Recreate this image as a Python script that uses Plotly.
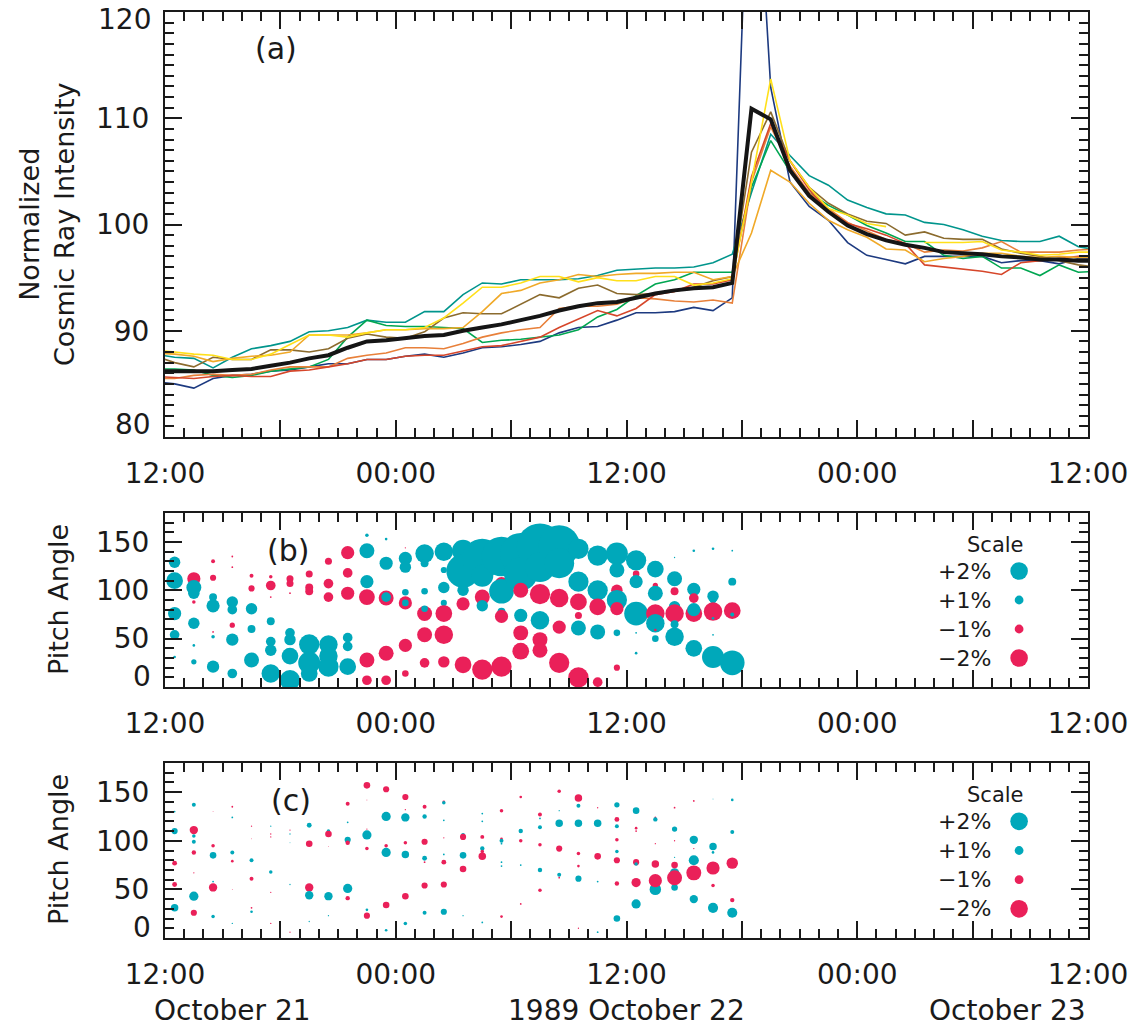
import plotly.graph_objects as go
import pandas as pd

# ---------------- data ----------------
# hourly averages plotted at half hours, starting 1989-10-21 11:30
TIMES = pd.date_range("1989-10-21 11:30", periods=50, freq="h")

NAVY = [85.2, 85.0, 84.6, 85.5, 85.8, 85.9, 86.2, 86.3, 86.6, 86.9, 86.9, 87.3, 87.3, 87.6, 87.8, 87.5,
        87.9, 88.4, 88.5, 88.7, 89.0, 89.8, 90.3, 90.4, 91.0, 91.7, 91.7, 91.8, 92.2, 91.9, 93.1, 143.0,
        112.9, 104.0, 101.7, 100.4, 98.3, 97.1, 96.7, 96.3, 97.0, 97.0, 97.0, 97.0, 96.4, 96.6, 96.6, 96.3,
        96.8, 96.8]
TEAL = [87.8, 87.5, 87.4, 86.5, 87.5, 88.3, 88.6, 89.0, 89.9, 90.0, 90.3, 91.0, 90.8, 90.8, 91.8, 91.8,
        93.4, 94.5, 94.4, 94.8, 94.8, 94.8, 94.9, 95.2, 95.7, 95.8, 95.9, 95.9, 96.0, 96.4, 97.2, 103.0,
        108.5, 106.5, 104.6, 103.7, 102.3, 101.6, 101.0, 100.9, 100.2, 100.0, 99.5, 98.9, 98.5, 98.4, 98.4,
        98.9, 97.9, 97.6]
GREEN = [86.4, 86.4, 86.3, 85.8, 85.6, 85.8, 86.2, 86.4, 86.6, 87.3, 89.4, 91.0, 90.5, 90.4, 90.4, 90.3,
         90.2, 88.9, 89.1, 89.2, 89.4, 89.6, 90.1, 91.3, 92.0, 93.3, 94.4, 94.8, 95.5, 95.5, 95.5, 103.5,
         107.9, 105.0, 103.0, 101.8, 100.9, 99.9, 99.2, 98.4, 98.4, 97.1, 96.8, 97.0, 95.9, 95.9, 95.2, 96.2,
         95.5, 95.6]
BROWN = [87.6, 87.0, 86.6, 87.5, 87.3, 87.3, 88.2, 88.2, 88.0, 88.3, 89.3, 89.7, 89.4, 89.3, 89.9, 91.2,
         91.7, 91.6, 91.6, 92.5, 93.4, 93.1, 94.0, 94.3, 93.5, 93.4, 93.5, 93.7, 94.1, 94.7, 95.1, 106.8,
         110.6, 106.0, 103.5, 102.0, 101.0, 100.3, 100.1, 99.0, 99.3, 98.7, 98.6, 98.6, 97.7, 97.3, 97.0,
         96.6, 96.2, 96.0]
YELLOW = [88.2, 88.0, 87.8, 87.7, 87.3, 87.3, 87.8, 88.7, 89.6, 89.6, 89.4, 89.8, 90.1, 90.1, 90.3, 91.2,
          92.6, 94.1, 94.1, 94.5, 95.1, 95.1, 94.6, 95.0, 94.7, 94.7, 95.1, 95.1, 94.3, 94.5, 94.9, 104.0,
          113.7, 106.0, 103.5, 101.5, 100.9, 100.1, 99.8, None, 98.3, 98.3, 98.3, 98.4, 97.6, 97.4, 97.1,
          97.2, 97.4, 97.4]
GOLD = [87.9, 87.8, 87.6, 87.1, 87.4, 87.6, 87.7, 88.0, 89.6, 89.6, 89.6, 89.8, 90.1, 90.1, 90.2, 90.2,
        90.3, 91.8, 93.5, 93.8, 94.5, 94.8, 95.3, 95.1, 95.3, 95.4, 95.4, 95.5, 95.5, 94.8, 95.1, 99.2,
        105.1, 104.0, 102.0, 100.4, 99.5, 98.8, 97.7, 97.6, 96.5, 96.8, 97.0, 97.3, 97.3, 97.0, 96.9, 97.0,
        96.9, 96.9]
ORANGE = [85.5, 85.5, 85.8, 85.9, 85.8, 85.9, 86.3, 86.6, 86.6, 86.6, 87.4, 87.7, 87.9, 88.4, 88.4, 88.3,
          88.8, 89.4, 89.8, 90.1, 90.3, 92.1, 92.3, 92.3, 92.5, 93.1, 93.0, 92.8, 92.7, 92.9, 92.6, 104.0,
          109.2, 105.5, 103.0, 101.5, 100.2, 99.4, 98.6, 98.2, 97.4, 97.6, 97.5, 97.8, 98.4, 97.4, 97.4,
          97.4, 97.6, 97.7]
RED = [85.7, 85.6, 85.5, 85.7, 85.8, 85.7, 85.7, 86.2, 86.3, 86.6, 86.9, 87.3, 87.3, 87.6, 87.7, 87.7,
       88.1, 88.5, 88.6, 89.0, 89.4, 90.3, 91.1, 91.9, 91.4, 92.1, 93.4, 93.7, 94.4, 94.4, 94.8, 104.5,
       109.5, 106.0, 103.3, 101.3, 100.1, 99.6, 99.0, 98.2, 96.2, 96.0, 95.8, 95.6, 95.3, 96.4, 96.6, 96.8,
       97.0, 97.0]
MEAN = [86.2, 86.2, 86.2, 86.2, 86.3, 86.4, 86.7, 87.0, 87.4, 87.7, 88.4, 89.0, 89.1, 89.3, 89.5, 89.6,
        90.0, 90.3, 90.6, 91.0, 91.4, 91.9, 92.3, 92.6, 92.7, 93.1, 93.5, 93.8, 94.0, 94.1, 94.5, 110.9,
        109.9, 105.1, 102.7, 101.2, 99.9, 99.1, 98.5, 98.1, 97.8, 97.4, 97.3, 97.2, 97.0, 96.9, 96.7, 96.7,
        96.6, 96.6]

LINE_SERIES = [("navy", NAVY, "#1d3a80"), ("teal", TEAL, "#00958c"), ("green", GREEN, "#00a651"),
               ("brown", BROWN, "#8b6b2e"), ("orange", ORANGE, "#e8803a"), ("red", RED, "#d6462a"),
               ("gold", GOLD, "#f0a928"), ("yellow", YELLOW, "#ffe01a")]

# panel (b): per hourly column (12:30 Oct 21 ... 17:30 Oct 22): pitch angles (deg) and anisotropy (%)
B_PITCH = [[129, 110, 76, 54, 31], [112, 103, 97, 88, 66, 43, 26], [130, 113, 93, 84, 57, 52, 21],
           [135, 124, 88, 80, 64, 49, 14], [115, 102, 81, 60, 28], [114, 105, 93, 68, 47, 38, 14],
           [112, 107, 97, 56, 49, 32, 7], [117, 103, 99, 44, 25, 14], [130, 107, 93, 44, 32, 21],
           [139, 118, 97, 51, 42, 21], [157, 141, 109, 93, 28, 7], [153, 128, 92, 93, 35, 7],
           [144, 133, 124, 98, 87, 87, 43, 14], [138, 128, 99, 76, 81, 54, 25], [140, 121, 103, 87, 76, 54, 26],
           [141, 120, 100, 86, 23], [133, 115, 93, 84, 18], [135, 107, 99, 78, 73, 21],
           [138, 117, 100, 74, 56, 37], [145, 124, 96, 69, 49, 38], [146, 128, 92, 62, 25],
           [143, 109, 88, 74, 61, 10], [136, 100, 83, 57, 5], [138, 121, 100, 90, 81, 56, 20],
           [131, 117, 109, 78, 76, 56, 35], [122, 105, 97, 76, 66, 59, 50], [134, 112, 99, 83, 76, 65, 52],
           [141, 101, 92, 76, 80, 40], [143, 94, 90, 78, 71, 54, 31], [141, 109, 79, 75, 25]]
B_PCT = [[1.3, 1.9, 1.5, 1.1, 0.3], [-1.5, 1.7, 1.3, -0.4, 1.3, 0.3, 0.6], [-0.45, -0.7, 0.9, 1.5, -0.2, 0.4, 1.4],
         [-0.2, -0.2, 1.3, 1.1, -0.6, 1.4, 1.1], [-0.45, -0.7, 1.3, 0.9, 1.7], [-0.4, -1.1, -0.2, 0.9, 1.1, 1.3, 2.1],
         [-0.8, -0.8, -0.2, 1.1, 1.3, 1.9, 2.3], [-0.8, -0.9, -0.9, 2.3, 2.5, 1.9], [-0.8, -1.1, -1.1, 2.1, 2.1, 2.3],
         [-1.5, -1.1, -1.5, 1.1, 1.1, 1.9], [0.4, 1.7, 1.5, -1.8, -1.7, -1.1], [0.3, 1.5, -1.7, 1.1, -1.7, -1.1],
         [-0.15, 1.5, 1.3, 0.75, -1.5, 0.75, -1.5, -0.75], [2.1, 0.9, 0.75, -1.7, 0.75, -1.7, -1.1],
         [2.1, 0.7, 1.3, 0.7, -1.9, -2.1, -1.3], [2.5, 3.8, 1.3, -1.5, -1.9], [4.5, 2.5, -1.7, 1.3, -2.3],
         [4.5, -1.5, 2.8, 0.9, -1.5, -2.3], [4.7, 3.8, -1.7, 1.5, -1.7, -1.9], [5.3, 3.4, -2.3, 2.1, -1.7, -1.7],
         [4.7, 3.4, -2.1, -1.5, -2.3], [2.3, 2.3, -1.9, -0.8, 1.7, -2.3], [2.3, 2.3, -1.9, 1.7, -1.1],
         [2.5, 1.7, -1.3, 2.3, -1.5, 0.75, -0.7], [2.3, -0.75, 1.5, -1.1, 2.7, 0.2, 0.3],
         [1.9, -0.6, 1.7, -2.1, 2.1, -0.3, 0.75], [0.15, 1.7, -0.9, 1.3, -2.1, 0.9, 2.1],
         [0.3, 1.5, -1.1, -1.9, 1.5, 1.9], [0.3, 1.3, 0.75, -2.1, 0.3, 0.2, 2.5], [0.2, 0.9, -1.9, 0.45, 2.8]]

# panel (c)
C_PITCH = [[130, 110, 77, 55, 31], [137, 111, 105, 99, 88, 67, 43, 26], [130, 95, 85, 58, 52, 22],
           [135, 124, 88, 79, 50, 15], [115, 102, 80, 61, 31, 27], [115, 107, 104, 68, 47, 15],
           [111, 107, 98, 55, 6], [116, 97, 52, 44, 17], [110, 107, 94, 43, 23],
           [138, 119, 101, 98, 51, 41], [157, 142, 112, 106, 92, 29, 23], [153, 125, 95, 88, 34, 8],
           [145, 132, 124, 98, 86, 43, 15], [135, 125, 99, 82, 78, 54, 26], [140, 139, 121, 103, 86, 78, 55, 27],
           [106, 104, 85, 71, 23], [128, 120, 104, 92, 89, 84, 16], [131, 102, 100, 97, 78, 74, 22],
           [145, 110, 100, 75, 35], [127, 123, 114, 96, 70, 49], [151, 131, 118, 92, 65, 62],
           [144, 136, 118, 87, 74, 61, 10], [134, 118, 84, 58, 6], [137, 122, 115, 101, 89, 80, 56, 20],
           [131, 113, 110, 78, 76, 57, 35], [124, 122, 97, 50, 76, 59], [134, 112, 100, 83, 67, 52, 75, 62],
           [141, 101, 92, 80, 40, 67], [143, 94, 88, 31, 72, 54], [142, 109, 76, 26, 77, 39]]
C_PCT = [[0.2, 0.7, -0.55, -0.55, 0.85], [0.45, -0.95, 0.4, 0.45, -0.5, -0.15, 1.05, -0.7],
         [-0.1, -0.4, 0.75, 0.2, -0.95, 0.4], [-0.2, 0.2, 0.45, -0.3, -0.1, 0.15], [-0.15, -0.1, 0.45, -0.45, -0.2, 0.3],
         [0.15, -0.15, -0.15, 0.4, -0.15, -0.15], [-0.15, 0.15, 0.1, 0.15, -0.15], [0.55, -0.75, -0.95, 0.95, 0.15],
         [0.4, -0.75, -0.1, 0.95, 0.15], [-0.45, 0.2, 0.7, -0.5, 1.05, -0.5], [-0.75, -0.1, -0.15, 1.05, -0.4, 0.3, -0.7],
         [-0.7, 1.05, -0.4, 1.05, -0.75, 0.3], [-0.7, -0.15, 0.95, -0.4, 0.85, -0.75, 0.4],
         [-0.45, 0.5, -0.7, 0.55, -0.2, -0.7, 0.45], [-0.3, 0.4, 0.2, -0.15, 0.2, -0.55, -0.7, 0.7],
         [0.45, -0.7, 0.75, -0.75, 0.15], [0.2, 0.2, -0.45, 0.5, -0.4, -0.85, 0.2], [-0.4, -0.3, 0.45, 0.2, 0.2, 0.2, -0.3],
         [-0.3, 0.5, -0.4, 0.2, -0.2], [-0.45, 0.2, 0.45, -0.4, 0.5, -0.4], [-0.4, 0.15, 0.85, -0.7, 0.45, -0.2],
         [-0.85, 0.45, 0.85, -0.4, -0.3, 0.7, -0.15], [-0.15, 0.85, -0.75, 0.2, 0.2],
         [0.6, -0.55, 0.45, -0.4, 0.4, -0.7, -0.5, 0.75], [0.75, -0.3, -0.2, -0.7, 0.4, -1.05, 1.05],
         [-0.2, 0.5, -0.15, 1.3, -0.85, -1.5], [-0.2, 0.6, -0.15, 0.15, 1.05, 0.75, -0.75, -1.7],
         [-0.2, 0.95, -0.15, 1.15, 0.95, -1.7], [0.1, 0.85, 0.3, 1.15, -1.5, -0.4], [0.3, 0.45, 0.3, 1.15, -1.3, -0.5]]

SCALE_VALUES = [2, 1, -1, -2]
SCALE_LABELS = ["+2%", "+1%", "\u22121%", "\u22122%"]
SCALE_PITCH = [120, 90, 60, 30]

# ---------------- styling ----------------
CYAN = "#00a8ba"
CRIMSON = "#ea2059"
PX_PER_PCT = 8.8
FONT = "DejaVu Sans"
INK = "#1a1a1a"

fig = go.Figure()

for name, vals, col in LINE_SERIES:
    fig.add_trace(go.Scatter(x=TIMES, y=vals, mode="lines", name=name,
                             line=dict(color=col, width=1.6), connectgaps=False,
                             xaxis="x", yaxis="y", showlegend=False))
fig.add_trace(go.Scatter(x=TIMES, y=MEAN, mode="lines", name="mean",
                         line=dict(color="#151515", width=4), xaxis="x", yaxis="y", showlegend=False))


def bubbles(pitch_cols, pct_cols):
    xs, ys, vs = [], [], []
    for k, (ps, vv) in enumerate(zip(pitch_cols, pct_cols)):
        for p, v in zip(ps, vv):
            xs.append(TIMES[k + 1])
            ys.append(p)
            vs.append(v)
    return xs, ys, vs


for (pc, vc, xa, ya) in [(B_PITCH, B_PCT, "x2", "y2"), (C_PITCH, C_PCT, "x3", "y3")]:
    xs, ys, vs = bubbles(pc, vc)
    fig.add_trace(go.Scatter(
        x=xs, y=ys, mode="markers", xaxis=xa, yaxis=ya, showlegend=False,
        marker=dict(size=[PX_PER_PCT * abs(v) for v in vs], sizemode="diameter",
                    color=[CYAN if v > 0 else CRIMSON for v in vs], line=dict(width=0), opacity=1)))
    # scale key
    key_t = pd.Timestamp("1989-10-23 08:25")
    fig.add_trace(go.Scatter(
        x=[key_t] * 4, y=SCALE_PITCH, mode="markers", xaxis=xa, yaxis=ya, showlegend=False,
        marker=dict(size=[PX_PER_PCT * abs(v) for v in SCALE_VALUES], sizemode="diameter",
                    color=[CYAN if v > 0 else CRIMSON for v in SCALE_VALUES], line=dict(width=0),
                    opacity=1)))
    for lab, p in zip(SCALE_LABELS, SCALE_PITCH):
        fig.add_annotation(x=pd.Timestamp("1989-10-23 07:05"), y=p, xref=xa, yref=ya, text=lab,
                           showarrow=False, xanchor="right", yanchor="middle",
                           font=dict(family=FONT, size=22, color=INK))
    fig.add_annotation(x=pd.Timestamp("1989-10-23 07:10"), y=147, xref=xa, yref=ya, text="Scale",
                       showarrow=False, xanchor="center", yanchor="middle",
                       font=dict(family=FONT, size=21, color=INK))

# ---------------- axes ----------------
W, H = 1135, 1029
XDOM = [165 / W, 1088 / W]


def ydom(top, bottom):
    return [1 - bottom / H, 1 - top / H]


TICKVALS = pd.date_range("1989-10-21 12:00", periods=9, freq="6h")
TICKTEXT = ["12:00", "", "00:00", "", "12:00", "", "00:00", "", "12:00"]

axis_common = dict(showline=True, linecolor=INK, linewidth=2, mirror="ticks", ticks="inside",
                   tickcolor=INK, tickwidth=2, ticklen=17, showgrid=False, zeroline=False,
                   automargin=False, tickfont=dict(family=FONT, size=28, color=INK))


def xaxis(anchor):
    return dict(axis_common, type="date", domain=XDOM, anchor=anchor,
                range=["1989-10-21 12:00", "1989-10-23 12:00"],
                tickmode="array", tickvals=TICKVALS, ticktext=TICKTEXT, ticklabelstandoff=10,
                minor=dict(ticks="inside", ticklen=9, tickwidth=1.6, tickcolor=INK,
                           dtick=3600000, tick0="1989-10-21 12:00", showgrid=False))


MINOR_Y = dict(ticks="inside", ticklen=9, tickwidth=1.6, tickcolor=INK, showgrid=False)

layout = dict(
    width=W, height=H, margin=dict(l=0, r=0, t=0, b=0),
    paper_bgcolor="white", plot_bgcolor="white", showlegend=False,
    xaxis=xaxis("y"), xaxis2=xaxis("y2"), xaxis3=xaxis("y3"),
    yaxis=dict(axis_common, domain=ydom(12, 437), anchor="x", range=[80, 120],
               tickmode="array", tickvals=[80, 90, 100, 110, 120], ticktext=["", "90", "100", "110", ""],
               ticklabelstandoff=8, minor=dict(MINOR_Y, dtick=1)),
    yaxis2=dict(axis_common, domain=ydom(513, 687), anchor="x2", range=[0, 180],
                tickmode="array", tickvals=[0, 50, 100, 150], ticktext=["", "50", "100", "150"],
                ticklabelstandoff=8, minor=dict(MINOR_Y, dtick=10)),
    yaxis3=dict(axis_common, domain=ydom(763, 938), anchor="x3", range=[0, 180],
                tickmode="array", tickvals=[0, 50, 100, 150], ticktext=["", "50", "100", "150"],
                ticklabelstandoff=8, minor=dict(MINOR_Y, dtick=10)),
)
fig.update_layout(**layout)

# ---------------- texts ----------------
def pap(text, x, y, size=28, angle=0, xanchor="center"):
    fig.add_annotation(text=text, x=x / W, y=1 - y / H, xref="paper", yref="paper", showarrow=False,
                       textangle=angle, xanchor=xanchor, yanchor="middle",
                       font=dict(family=FONT, size=size, color=INK))


# end-of-axis labels pulled inside, as in the original
pap("120", 153, 20, xanchor="right")
pap("80", 153, 425, xanchor="right")
pap("0", 153, 676, xanchor="right")
pap("0", 153, 927, xanchor="right")

pap("Normalized<br>Cosmic Ray Intensity", 47, 225, size=27, angle=-90)
pap("Pitch Angle", 58, 600, size=27, angle=-90)
pap("Pitch Angle", 58, 850, size=27, angle=-90)
pap("(a)", 276, 48, size=30)
pap("(b)", 288, 550, size=30)
pap("(c)", 291, 800, size=30)
pap("October 21", 152, 1010, size=28, xanchor="left")
pap("1989 October 22", 626, 1010, size=28)
pap("October 23", 1088, 1010, size=28, xanchor="right")

fig.write_html("out.html")
